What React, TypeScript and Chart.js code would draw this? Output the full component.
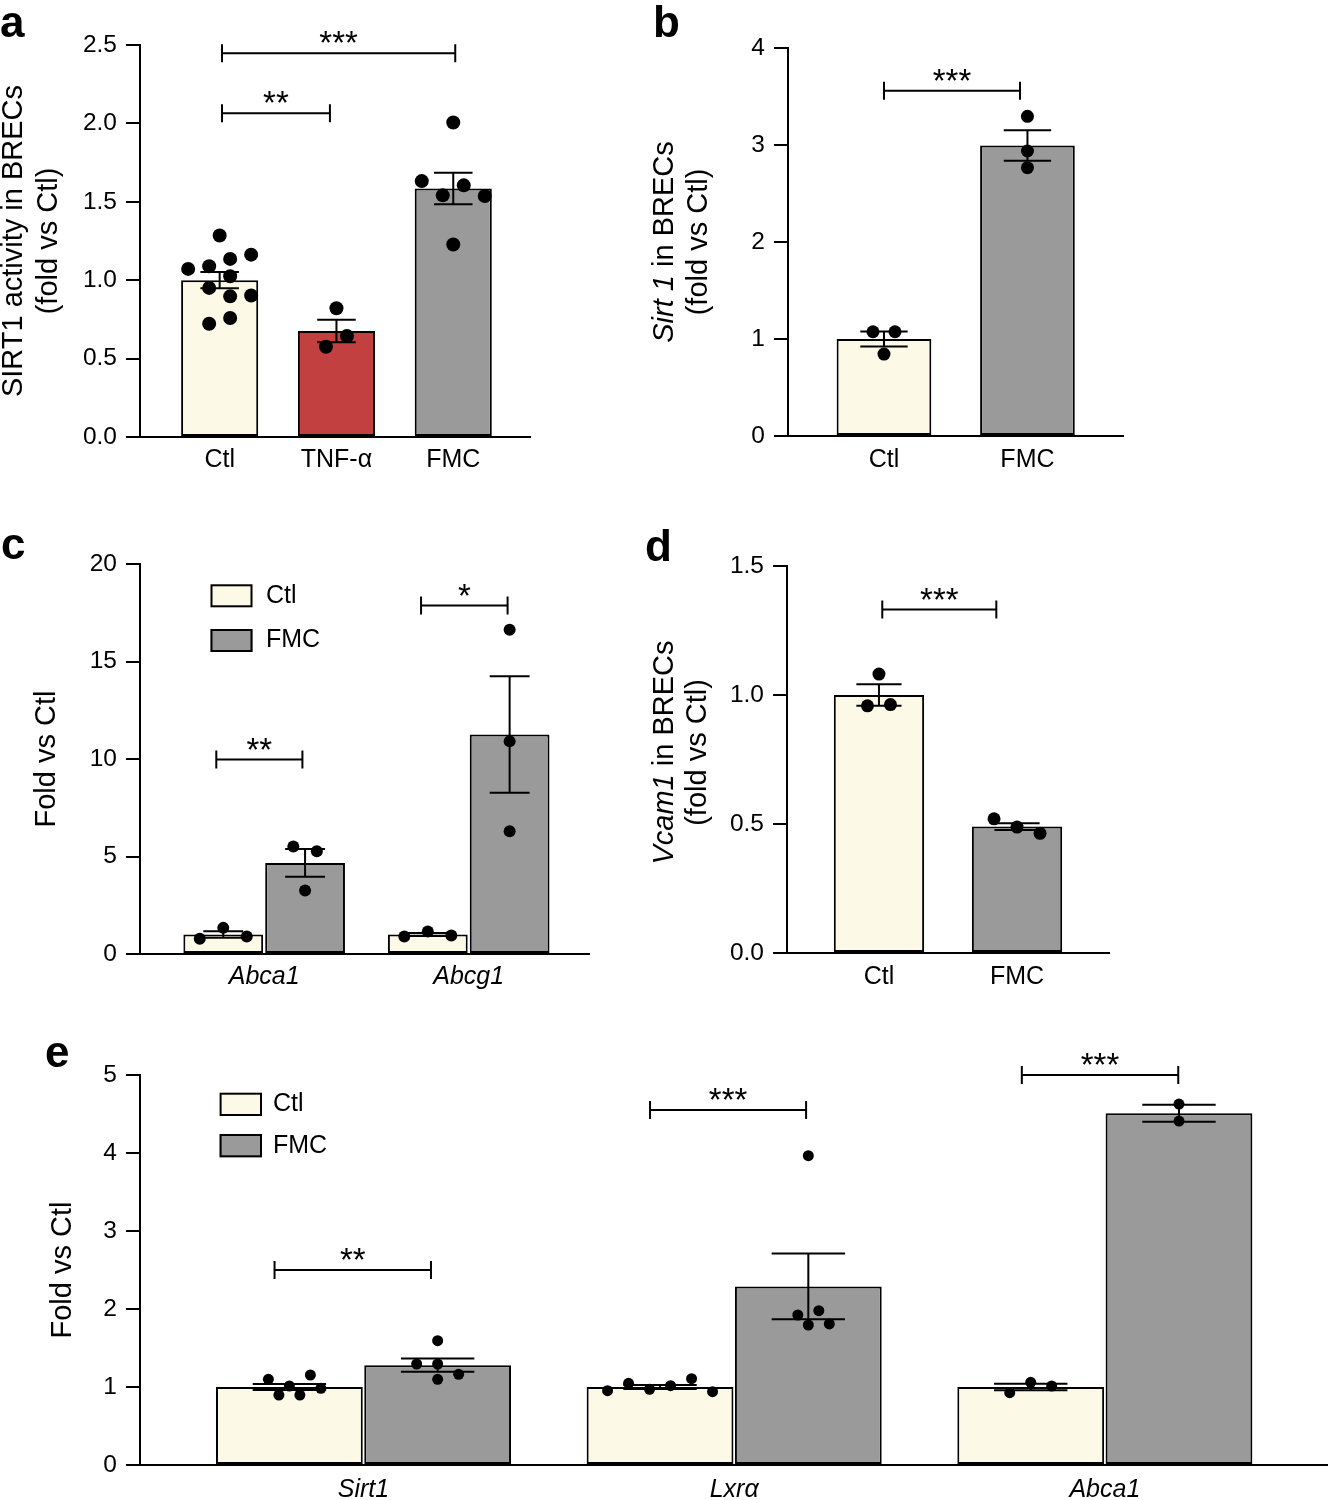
import React, { useEffect, useRef } from 'react';
import { Chart, registerables } from 'chart.js';

Chart.register(...registerables);

const FONT = '"Liberation Sans", Arimo, Arial, Helvetica, sans-serif';
const CTL_FILL = '#fcfae6';
const TNF_FILL = '#c2403f';
const FMC_FILL = '#9a9a9a';

type Bracket = { from: number; to: number; y: number; label: string };

// ---------------- Panel a ----------------
const aCategories = ['Ctl', 'TNF-α', 'FMC'];
const aMeans = [1.0, 0.676, 1.585];
const aSem = [0.052, 0.072, 0.1];
const aCtlPoints = [1.285, 1.072, 1.089, 1.136, 1.163, 0.951, 1.025, 0.897, 0.902, 0.722, 0.759];
const aTnfPoints = [0.821, 0.576, 0.644];
const aFmcPoints = [2.006, 1.632, 1.541, 1.605, 1.537, 1.228];
const aYTicks = [0, 0.5, 1.0, 1.5, 2.0, 2.5];
const aBrackets: Bracket[] = [
  { from: 0.02, to: 2.017, y: 2.447, label: '***' },
  { from: 0.02, to: 0.944, y: 2.064, label: '**' },
];

// ---------------- Panel b ----------------
const bCategories = ['Ctl', 'FMC'];
const bMeans = [1.0, 2.995];
const bSem = [0.077, 0.158];
const bCtlPoints = [1.075, 1.075, 0.845];
const bFmcPoints = [3.296, 2.938, 2.766];
const bYTicks = [0, 1, 2, 3, 4];
const bBrackets: Bracket[] = [{ from: 0, to: 0.948, y: 3.56, label: '***' }];

// ---------------- Panel c ----------------
const cCategories = ['Abca1', 'Abcg1'];
const cCtlMeans = [1.0, 1.0];
const cCtlSem = [0.17, 0.08];
const cFmcMeans = [4.67, 11.26];
const cFmcSem = [0.71, 2.99];
const cCtlPoints = [
  [0.78, 1.34, 0.9],
  [0.9, 1.15, 0.95],
];
const cFmcPoints = [
  [5.51, 5.27, 3.26],
  [16.63, 10.91, 6.3],
];
const cYTicks = [0, 5, 10, 15, 20];
const cBrackets: Bracket[] = [
  { from: -0.234, to: 0.187, y: 9.97, label: '**' },
  { from: 0.767, to: 1.19, y: 17.87, label: '*' },
];

// ---------------- Panel d ----------------
const dCategories = ['Ctl', 'FMC'];
const dMeans = [1.0, 0.49];
const dSem = [0.042, 0.013];
const dCtlPoints = [1.081, 0.958, 0.963];
const dFmcPoints = [0.52, 0.488, 0.464];
const dYTicks = [0, 0.5, 1.0, 1.5];
const dBrackets: Bracket[] = [{ from: 0.024, to: 0.85, y: 1.331, label: '***' }];

// ---------------- Panel e ----------------
const eCategories = ['Sirt1', 'Lxrα', 'Abca1'];
const eCtlMeans = [1.0, 1.0, 1.0];
const eCtlSem = [0.04, 0.026, 0.043];
const eFmcMeans = [1.28, 2.29, 4.51];
const eFmcSem = [0.085, 0.42, 0.11];
const eCtlPoints = [
  [1.099, 0.897, 1.013, 1.154, 0.897, 0.983],
  [0.953, 1.047, 0.971, 1.017, 1.106, 0.94],
  [0.927, 1.06, 1.013],
];
const eFmcPoints = [
  [1.594, 1.295, 1.295, 1.099, 1.163],
  [3.965, 1.795, 1.923, 1.978, 1.808],
  [4.628, 4.41],
];
const eYTicks = [0, 1, 2, 3, 4, 5];
const eBrackets: Bracket[] = [
  { from: -0.24, to: 0.182, y: 2.5, label: '**' },
  { from: 0.773, to: 1.194, y: 4.55, label: '***' },
  { from: 1.776, to: 2.198, y: 5.0, label: '***' },
];

// ---------------- configuration types ----------------
type Seg = { text: string; italic?: boolean };
type TitleLine = { segs: Seg[]; offset: number; dy?: number };
type Series = { label: string; fill: string | string[]; means: number[]; sem: number[]; points: number[][] };
type PanelCfg = {
  canvas: { left: number; top: number; width: number; height: number };
  area: { left: number; top: number; right: number; bottom: number };
  xMin: number;
  xMax: number;
  yTicks: number[];
  yDecimals: number;
  categories: string[];
  italicCats: boolean;
  xLabelPad: number;
  series: Series[];
  catPct: number;
  barPct: number;
  pointRadius: number;
  spacing: number;
  brackets: Bracket[];
  titles: TitleLine[];
  legend?: { dx: number; dy: number[]; w: number; h: number; textDx: number };
};

function makeSwarmPlugin(spacing: number) {
  return {
    id: 'swarm',
    afterDatasetsUpdate(chart: any) {
      const xs = chart.scales.x;
      chart.data.datasets.forEach((ds: any, di: number) => {
        if (!ds.swarm) return;
        const meta = chart.getDatasetMeta(di);
        const r = ds.pointRadius;
        const d = 2 * r;
        const h = spacing / 2;
        const items = meta.data.map((el: any, j: number) => ({
          el,
          j,
          y: el.y,
          base: xs.getPixelForValue(ds.data[j].x),
        }));
        const sorted = [...items].sort((p, q) => p.y - q.y);
        const rows: any[][] = [];
        sorted.forEach((it) => {
          const row = rows[rows.length - 1];
          if (row && it.y - row[0].y < d * 1.2) row.push(it);
          else rows.push([it]);
        });
        const placed: { dx: number; y: number }[] = [];
        const shifts = [0, h, -h, 2 * h, -2 * h, 3 * h, -3 * h, 4 * h, -4 * h];
        rows.forEach((row) => {
          row.sort((p, q) => p.j - q.j);
          const n = row.length;
          const base = row.map((_: any, k: number) => (k - (n - 1) / 2) * spacing);
          let chosen = 0;
          for (const sh of shifts) {
            const ok = row.every((p: any, k: number) =>
              placed.every((q) => Math.hypot(base[k] + sh - q.dx, p.y - q.y) >= d * 0.98)
            );
            if (ok) {
              chosen = sh;
              break;
            }
          }
          row.forEach((p: any, k: number) => {
            const dx = base[k] + chosen;
            p.el.x = p.base + dx;
            placed.push({ dx, y: p.y });
          });
        });
      });
    },
  };
}

const errorBarPlugin = {
  id: 'errorBars',
  afterDatasetsDraw(chart: any) {
    const { ctx } = chart;
    const ys = chart.scales.y;
    ctx.save();
    ctx.strokeStyle = '#000';
    ctx.lineWidth = 2;
    chart.data.datasets.forEach((ds: any, di: number) => {
      if (!ds.sem) return;
      const meta = chart.getDatasetMeta(di);
      meta.data.forEach((el: any, j: number) => {
        const m = ds.data[j].y;
        const s = ds.sem[j];
        const top = ys.getPixelForValue(m + s);
        const bot = ys.getPixelForValue(m - s);
        const half = el.width * 0.25;
        ctx.beginPath();
        ctx.moveTo(el.x, top);
        ctx.lineTo(el.x, bot);
        ctx.moveTo(el.x - half, top);
        ctx.lineTo(el.x + half, top);
        ctx.moveTo(el.x - half, bot);
        ctx.lineTo(el.x + half, bot);
        ctx.stroke();
      });
    });
    ctx.restore();
  },
};

function makeAnnotPlugin(p: PanelCfg) {
  return {
    id: 'annot',
    afterDraw(chart: any) {
      const { ctx, chartArea: a } = chart;
      const xs = chart.scales.x;
      const ys = chart.scales.y;
      ctx.save();
      ctx.strokeStyle = '#000';
      ctx.fillStyle = '#000';
      ctx.lineWidth = 2;
      // significance brackets
      p.brackets.forEach((b) => {
        const x1 = xs.getPixelForValue(b.from);
        const x2 = xs.getPixelForValue(b.to);
        const yy = ys.getPixelForValue(b.y);
        ctx.beginPath();
        ctx.moveTo(x1, yy);
        ctx.lineTo(x2, yy);
        ctx.moveTo(x1, yy - 9);
        ctx.lineTo(x1, yy + 9);
        ctx.moveTo(x2, yy - 9);
        ctx.lineTo(x2, yy + 9);
        ctx.stroke();
        ctx.font = `33px ${FONT}`;
        ctx.textAlign = 'center';
        ctx.textBaseline = 'alphabetic';
        ctx.fillText(b.label, (x1 + x2) / 2, yy + 1);
      });
      // y-axis titles (rotated, mixed italic)
      const cy = (a.top + a.bottom) / 2;
      p.titles.forEach((line) => {
        const fonts = line.segs.map((s) => `${s.italic ? 'italic ' : ''}29px ${FONT}`);
        const widths = line.segs.map((s, i) => {
          ctx.font = fonts[i];
          return ctx.measureText(s.text).width;
        });
        const total = widths.reduce((u, v) => u + v, 0);
        ctx.save();
        ctx.translate(a.left + line.offset, cy + (line.dy || 0));
        ctx.rotate(-Math.PI / 2);
        ctx.textAlign = 'left';
        ctx.textBaseline = 'alphabetic';
        let cx = -total / 2;
        line.segs.forEach((s, i) => {
          ctx.font = fonts[i];
          ctx.fillText(s.text, cx, 0);
          cx += widths[i];
        });
        ctx.restore();
      });
      // legend
      if (p.legend) {
        const lg = p.legend;
        p.series.forEach((s, k) => {
          const bx = a.left + lg.dx;
          const by = a.top + lg.dy[k];
          ctx.fillStyle = Array.isArray(s.fill) ? s.fill[0] : s.fill;
          ctx.fillRect(bx, by, lg.w, lg.h);
          ctx.strokeStyle = '#000';
          ctx.lineWidth = 2;
          ctx.strokeRect(bx + 1, by + 1, lg.w - 2, lg.h - 2);
          ctx.fillStyle = '#000';
          ctx.font = `25px ${FONT}`;
          ctx.textAlign = 'left';
          ctx.textBaseline = 'middle';
          ctx.fillText(s.label, a.left + lg.textDx, by + lg.h / 2);
        });
      }
      ctx.restore();
    },
  };
}

function buildConfig(p: PanelCfg): any {
  const nSeries = p.series.length;
  const datasets: any[] = [];
  p.series.forEach((s) => {
    datasets.push({
      type: 'bar',
      label: s.label,
      data: s.means.map((m, i) => ({ x: i, y: m })),
      backgroundColor: s.fill,
      borderColor: '#000',
      borderWidth: 2,
      borderSkipped: false,
      categoryPercentage: p.catPct,
      barPercentage: p.barPct,
      order: 2,
      sem: s.sem,
    });
  });
  p.series.forEach((s, si) => {
    const off = nSeries === 1 ? 0 : (si - (nSeries - 1) / 2) * (p.catPct / nSeries);
    s.points.forEach((vals, i) => {
      datasets.push({
        type: 'scatter',
        data: vals.map((v) => ({ x: i + off, y: v })),
        pointRadius: p.pointRadius,
        pointHoverRadius: p.pointRadius,
        backgroundColor: '#000',
        borderColor: '#000',
        pointBorderWidth: 0,
        order: 1,
        swarm: true,
      });
    });
  });
  const padTop = p.area.top - p.canvas.top;
  const padRight = p.canvas.left + p.canvas.width - p.area.right;
  const yWidth = p.area.left - p.canvas.left;
  const xHeight = p.canvas.top + p.canvas.height - p.area.bottom;
  return {
    type: 'bar',
    data: { datasets },
    options: {
      responsive: false,
      animation: false,
      events: [],
      layout: { padding: { top: padTop, right: padRight, left: 0, bottom: 0 } },
      plugins: { legend: { display: false }, tooltip: { enabled: false } },
      scales: {
        x: {
          type: 'linear',
          min: p.xMin,
          max: p.xMax,
          offset: false,
          grid: { display: false, drawTicks: false, tickLength: 0 },
          border: { display: true, color: '#000', width: 2 },
          afterBuildTicks: (s: any) => {
            s.ticks = p.categories.map((_, i) => ({ value: i }));
          },
          afterFit: (s: any) => {
            s.height = xHeight;
          },
          ticks: {
            autoSkip: false,
            maxRotation: 0,
            minRotation: 0,
            padding: p.xLabelPad,
            color: '#000',
            font: { family: FONT, size: 25, style: p.italicCats ? 'italic' : 'normal' },
            callback: (v: any) => p.categories[Math.round(Number(v))] ?? '',
          },
        },
        y: {
          type: 'linear',
          min: 0,
          max: p.yTicks[p.yTicks.length - 1],
          afterBuildTicks: (s: any) => {
            s.ticks = p.yTicks.map((v) => ({ value: v }));
          },
          afterFit: (s: any) => {
            s.width = yWidth;
          },
          grid: {
            display: true,
            drawOnChartArea: false,
            drawTicks: true,
            tickLength: 14,
            color: '#000',
            lineWidth: 2,
          },
          border: { display: true, color: '#000', width: 2 },
          ticks: {
            padding: 9,
            color: '#000',
            font: { family: FONT, size: 24.5 },
            callback: (v: any) => Number(v).toFixed(p.yDecimals),
          },
        },
      },
    },
    plugins: [makeSwarmPlugin(p.spacing), errorBarPlugin, makeAnnotPlugin(p)],
  };
}

const foldVsCtl: Seg[] = [{ text: '(fold vs Ctl)' }];

const panels: PanelCfg[] = [
  {
    canvas: { left: 0, top: 0, width: 560, height: 500 },
    area: { left: 140, top: 45, right: 530, bottom: 437 },
    xMin: -0.682,
    xMax: 2.657,
    yTicks: aYTicks,
    yDecimals: 1,
    categories: aCategories,
    italicCats: false,
    xLabelPad: 8,
    series: [
      {
        label: 'SIRT1',
        fill: [CTL_FILL, TNF_FILL, FMC_FILL],
        means: aMeans,
        sem: aSem,
        points: [aCtlPoints, aTnfPoints, aFmcPoints],
      },
    ],
    catPct: 1,
    barPct: 0.66,
    pointRadius: 7,
    spacing: 21,
    brackets: aBrackets,
    titles: [
      { segs: [{ text: 'SIRT1 activity in BRECs' }], offset: -118 },
      { segs: foldVsCtl, offset: -83 },
    ],
  },
  {
    canvas: { left: 640, top: 0, width: 520, height: 500 },
    area: { left: 788, top: 48, right: 1123, bottom: 436 },
    xMin: -0.669,
    xMax: 1.666,
    yTicks: bYTicks,
    yDecimals: 0,
    categories: bCategories,
    italicCats: false,
    xLabelPad: 9,
    series: [
      {
        label: 'Sirt 1',
        fill: [CTL_FILL, FMC_FILL],
        means: bMeans,
        sem: bSem,
        points: [bCtlPoints, bFmcPoints],
      },
    ],
    catPct: 1,
    barPct: 0.66,
    pointRadius: 6.5,
    spacing: 22,
    brackets: bBrackets,
    titles: [
      { segs: [{ text: 'Sirt 1', italic: true }, { text: ' in BRECs' }], offset: -115 },
      { segs: foldVsCtl, offset: -81 },
    ],
  },
  {
    canvas: { left: 0, top: 510, width: 620, height: 500 },
    area: { left: 140, top: 564, right: 589, bottom: 954 },
    xMin: -0.607,
    xMax: 1.588,
    yTicks: cYTicks,
    yDecimals: 0,
    categories: cCategories,
    italicCats: true,
    xLabelPad: 8,
    series: [
      { label: 'Ctl', fill: CTL_FILL, means: cCtlMeans, sem: cCtlSem, points: cCtlPoints },
      { label: 'FMC', fill: FMC_FILL, means: cFmcMeans, sem: cFmcSem, points: cFmcPoints },
    ],
    catPct: 0.8,
    barPct: 0.975,
    pointRadius: 6,
    spacing: 23.5,
    brackets: cBrackets,
    titles: [{ segs: [{ text: 'Fold vs Ctl' }], offset: -85 }],
    legend: { dx: 70.5, dy: [20.3, 65], w: 42, h: 23, textDx: 126 },
  },
  {
    canvas: { left: 640, top: 510, width: 500, height: 500 },
    area: { left: 787, top: 566, right: 1109, bottom: 953 },
    xMin: -0.666,
    xMax: 1.666,
    yTicks: dYTicks,
    yDecimals: 1,
    categories: dCategories,
    italicCats: false,
    xLabelPad: 9,
    series: [
      {
        label: 'Vcam1',
        fill: [CTL_FILL, FMC_FILL],
        means: dMeans,
        sem: dSem,
        points: [dCtlPoints, dFmcPoints],
      },
    ],
    catPct: 1,
    barPct: 0.654,
    pointRadius: 6.5,
    spacing: 23,
    brackets: dBrackets,
    titles: [
      { segs: [{ text: 'Vcam1', italic: true }, { text: ' in BRECs' }], offset: -114, dy: -7 },
      { segs: foldVsCtl, offset: -81, dy: -7 },
    ],
  },
  {
    canvas: { left: 0, top: 1020, width: 1348, height: 480 },
    area: { left: 140, top: 1075, right: 1328, bottom: 1465 },
    xMin: -0.603,
    xMax: 2.602,
    yTicks: eYTicks,
    yDecimals: 0,
    categories: eCategories,
    italicCats: true,
    xLabelPad: 10,
    series: [
      { label: 'Ctl', fill: CTL_FILL, means: eCtlMeans, sem: eCtlSem, points: eCtlPoints },
      { label: 'FMC', fill: FMC_FILL, means: eFmcMeans, sem: eFmcSem, points: eFmcPoints },
    ],
    catPct: 0.8,
    barPct: 0.99,
    pointRadius: 5.5,
    spacing: 21,
    brackets: eBrackets,
    titles: [{ segs: [{ text: 'Fold vs Ctl' }], offset: -69 }],
    legend: { dx: 79.6, dy: [17.7, 59], w: 42.4, h: 23.3, textDx: 133 },
  },
];

const panelLetters = [
  { letter: 'a', left: 0, top: 0 },
  { letter: 'b', left: 653, top: 0 },
  { letter: 'c', left: 1, top: 522 },
  { letter: 'd', left: 645, top: 524 },
  { letter: 'e', left: 45, top: 1030 },
];

function PanelChart({ cfg }: { cfg: PanelCfg }) {
  const ref = useRef<HTMLCanvasElement>(null);
  useEffect(() => {
    if (!ref.current) return;
    const chart = new Chart(ref.current, buildConfig(cfg));
    return () => chart.destroy();
  }, [cfg]);
  return (
    <canvas
      ref={ref}
      width={cfg.canvas.width}
      height={cfg.canvas.height}
      style={{
        position: 'absolute',
        left: cfg.canvas.left,
        top: cfg.canvas.top,
        width: cfg.canvas.width,
        height: cfg.canvas.height,
        display: 'block',
      }}
    />
  );
}

export default function App() {
  return (
    <div
      style={{
        position: 'absolute',
        left: 0,
        top: 0,
        width: 1328,
        height: 1500,
        background: '#fff',
        overflow: 'hidden',
      }}
    >
      {panels.map((p, i) => (
        <PanelChart key={i} cfg={p} />
      ))}
      {panelLetters.map((l) => (
        <div
          key={l.letter}
          style={{
            position: 'absolute',
            left: l.left,
            top: l.top,
            fontFamily: FONT,
            fontWeight: 'bold',
            fontSize: 44,
            lineHeight: '44px',
            color: '#000',
          }}
        >
          {l.letter}
        </div>
      ))}
    </div>
  );
}
